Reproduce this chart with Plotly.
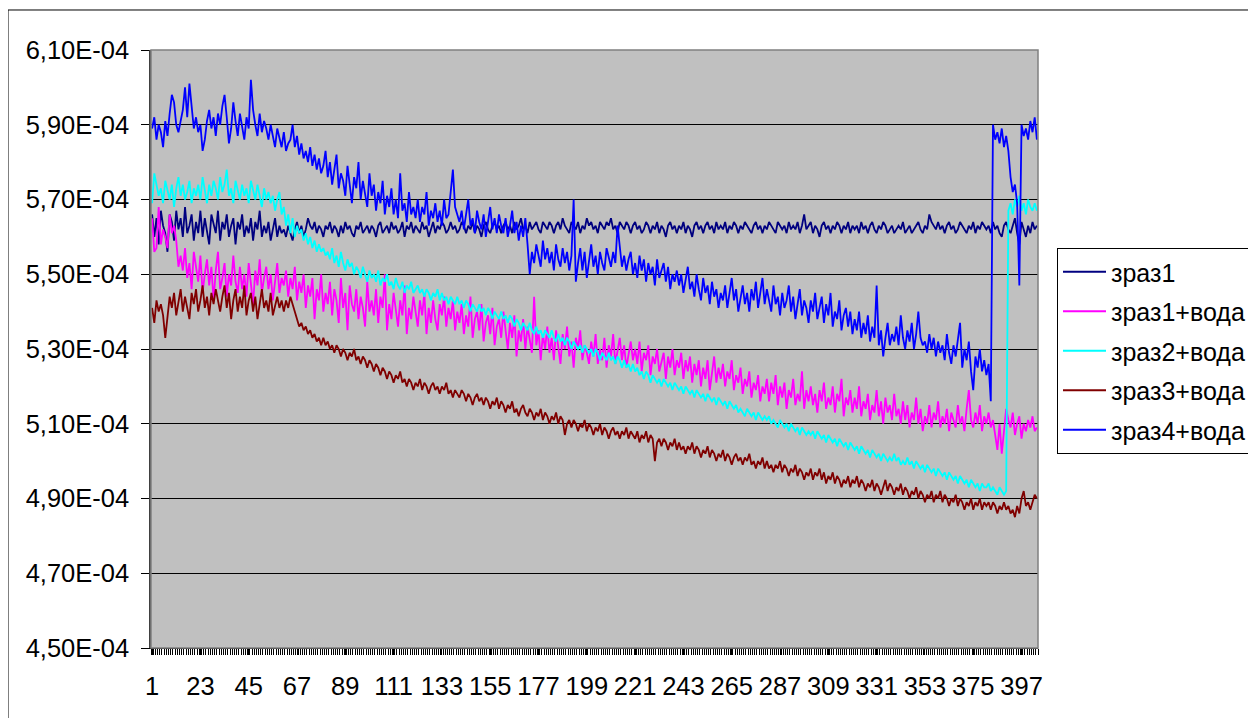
import numpy as np
import plotly.graph_objects as go

# values in units of 1e-6
zraz1 = [
566,560,565,558,567,563,561,556,566,564,559,567,562,565,560,568,561,563,566,559,
564,561,567,560,565,562,558,566,563,561,567,559,564,562,566,560,563,565,558,564,
562,566,560,563,561,565,559,564,562,567,560,563,561,564,559,562,565,560,563,561,
562,560,563,561,559,562,564,561,563,560,562,565,563,562,564,561,563,562,560,563,
562,564,561,563,562,560,563,561,564,562,563,561,560,563,562,564,561,562,563,561,
563,562,560,563,564,561,562,563,561,564,562,563,561,562,564,560,563,562,564,561,
563,562,561,564,562,563,560,562,564,561,563,562,564,563,561,562,564,562,563,561,
562,564,563,561,563,562,564,561,563,562,560,563,564,562,561,563,564,562,563,561,
563,564,562,563,561,564,562,563,565,562,563,561,564,562,563,564,562,561,564,563,
562,564,563,561,563,564,562,565,563,562,561,564,563,562,564,561,563,562,565,563,
564,562,563,561,564,563,562,564,563,565,562,563,561,564,563,562,564,563,561,563,
564,562,563,561,562,564,563,561,563,562,564,561,563,562,560,563,564,562,563,561,
563,562,564,561,563,562,560,563,564,562,563,561,563,564,562,563,561,564,562,563,
562,564,561,563,562,564,563,561,563,562,564,563,562,561,563,564,562,563,561,563,
562,564,563,562,561,564,563,562,563,561,564,562,563,562,564,561,563,566,562,563,
564,561,563,562,560,563,564,562,563,561,563,562,564,563,561,563,562,564,561,563,
562,563,561,564,562,563,561,563,564,562,561,563,562,564,563,561,562,563,561,562,
563,562,564,561,562,563,561,562,563,564,562,561,563,562,566,564,563,562,564,562,
563,561,563,564,562,563,561,562,564,563,562,561,563,562,564,561,563,562,564,563,
562,563,561,564,562,563,561,560,563,564,562,561,563,565,561,558,564,562,560,563,561,564,562,563]

zraz1_voda = [
565,556,557,568,558,562,560,557,566,561,563,559,552,555,551,557,549,553,546,556,
552,548,555,545,550,554,547,552,543,551,556,546,549,553,544,550,547,555,548,545,
552,546,550,544,553,548,542,551,547,554,545,549,552,546,550,543,548,553,545,549,
547,551,544,549,546,552,543,548,545,550,541,547,544,549,538,546,543,550,540,545,
542,548,539,546,543,537,549,541,545,535,547,542,540,546,538,544,541,536,548,540,
543,539,546,537,544,541,550,535,542,538,545,540,536,543,539,547,534,541,538,544,
540,536,543,539,545,534,541,537,543,538,535,542,539,544,536,541,538,543,535,540,
537,542,534,539,536,544,533,538,540,535,542,532,537,539,534,541,531,536,538,533,
540,535,530,537,533,539,528,535,532,538,530,536,533,529,544,531,535,527,534,530,
536,529,533,527,535,531,526,534,530,536,528,532,525,533,530,535,527,531,529,526,
532,528,534,526,530,527,533,525,531,528,534,526,530,533,527,531,525,529,532,527,
530,526,532,524,529,527,531,523,528,526,530,524,527,529,522,528,525,530,523,527,
525,529,522,527,524,528,521,526,523,527,520,525,522,527,519,524,528,521,525,522,
526,520,524,522,527,519,523,521,525,518,522,520,524,517,521,519,523,516,520,518,
522,516,521,518,523,515,520,517,521,514,519,517,522,515,518,516,524,514,519,516,
520,515,518,513,519,516,521,514,517,515,520,513,518,516,522,512,517,515,519,513,
517,514,520,512,516,514,518,511,515,513,519,512,516,510,517,513,515,511,518,512,
514,510,516,511,515,509,513,511,517,510,514,508,512,510,515,509,513,511,516,509,
512,510,514,508,513,511,509,515,510,512,508,514,519,511,509,513,510,515,508,512,
510,513,509,511,507,503,510,502,508,514,511,509,513,507,510,512,506,510,508,511,509,512,508,509]

zraz2_voda = [
569,577,574,571,573,569,575,572,570,574,568,573,576,571,574,570,572,575,569,573,
571,574,570,576,572,569,574,571,575,573,570,576,572,574,578,571,573,569,575,572,
570,574,571,573,569,575,572,570,574,571,568,573,570,572,569,571,567,570,572,566,
568,563,566,561,565,560,563,561,562,559,561,558,560,557,559,556,558,556,557,555,
556,554,557,553,555,552,556,553,551,554,552,553,550,552,551,549,552,550,548,551,
549,550,548,551,547,549,548,550,547,548,546,549,547,546,548,545,547,546,548,545,
546,547,545,546,544,546,545,543,545,544,546,543,545,543,544,542,544,543,542,544,
542,543,541,543,542,540,542,541,540,542,540,541,539,541,540,538,540,539,538,540,
538,539,537,539,538,536,538,537,535,537,536,535,537,535,534,536,534,535,533,535,
534,533,535,533,532,534,532,533,531,533,532,530,532,531,530,531,529,531,530,529,
530,528,530,529,527,529,528,527,529,527,528,526,528,527,525,527,525,526,524,526,
524,525,523,524,522,524,523,521,523,522,521,522,520,522,521,520,521,519,521,520,
519,520,518,520,519,518,519,517,519,518,517,518,516,518,517,516,517,515,517,516,
515,516,514,516,515,514,515,513,514,513,512,514,513,512,513,511,513,512,511,512,
511,512,510,511,510,509,511,510,509,510,508,510,509,508,509,507,509,508,507,508,
507,508,506,508,507,506,507,505,507,506,505,506,504,506,505,504,505,503,505,504,
503,504,502,504,503,502,503,501,503,502,501,502,500,502,501,500,501,500,502,500,
501,499,500,499,501,499,500,498,500,499,498,499,497,499,498,497,498,496,498,497,
496,497,495,497,496,495,496,494,496,495,494,495,493,495,494,493,494,492,494,493,
493,494,492,493,492,491,493,492,491,492,567,569,566,570,568,571,567,569,566,570,568,567,569,567]

zraz3_voda = [
541,537,543,540,542,539,533,538,544,541,545,539,543,546,540,544,541,538,545,542,
546,540,543,547,541,544,539,545,542,546,543,540,544,547,541,545,538,543,546,540,
544,541,547,539,543,545,540,544,538,542,546,541,543,540,545,539,542,544,541,543,
540,543,541,544,542,540,538,536,537,535,536,534,535,533,534,532,533,531,533,531,
532,530,531,529,531,530,528,530,529,527,529,528,530,527,528,526,528,527,525,527,
526,524,526,525,523,525,524,522,524,523,521,523,522,524,521,522,520,522,521,519,
521,520,522,519,521,520,518,520,521,519,520,518,520,519,521,518,519,517,519,518,
517,519,518,516,518,517,515,517,518,516,517,515,517,516,514,516,515,517,514,516,
515,513,515,514,516,513,514,512,514,515,513,512,514,513,511,513,512,514,511,513,
512,510,512,511,513,510,512,511,507,510,511,509,511,510,508,510,509,511,508,510,
509,507,509,508,510,507,509,508,506,508,509,507,508,506,508,507,509,506,508,507,
506,508,505,507,506,508,505,507,506,500,505,506,504,506,505,503,505,504,506,503,
505,503,504,502,504,503,505,502,504,503,501,503,502,504,501,503,502,500,502,501,
503,500,502,501,499,501,502,500,501,499,501,500,502,499,500,498,500,499,501,498,
500,498,499,497,499,498,500,497,499,498,496,498,497,499,496,498,497,495,497,496,
498,495,497,496,498,495,497,494,496,495,497,494,496,495,493,495,494,496,493,495,
494,496,493,495,494,492,494,493,495,492,494,493,491,493,495,492,494,493,491,493,
492,494,491,493,492,490,492,491,493,490,492,491,489,491,490,492,489,491,490,492,
489,491,490,488,490,489,491,488,490,489,487,489,488,490,487,489,488,490,487,489,
488,489,487,489,488,486,488,487,489,487,488,486,487,485,488,486,490,492,488,489,487,489,491,490]

zraz4_voda = [
589,592,586,590,588,584,591,587,593,598,596,590,588,591,594,600,592,601,595,589,
592,588,590,583,586,591,594,589,592,587,593,590,595,598,592,585,589,596,591,587,
593,590,586,592,589,602,594,590,587,593,588,591,589,586,590,587,584,589,586,584,
588,583,585,586,590,584,587,582,585,581,583,580,584,579,582,578,581,577,579,583,
576,580,574,578,582,573,577,575,571,579,574,569,576,573,580,570,575,572,568,577,
571,574,567,572,569,575,566,571,568,573,566,570,565,577,567,569,564,572,566,568,
565,570,564,568,566,572,563,567,565,569,564,567,563,570,565,566,572,578,568,566,
564,567,562,566,570,563,565,561,567,564,562,566,560,564,568,562,565,561,566,563,
561,565,560,563,567,561,564,559,563,560,565,558,550,556,553,558,555,552,559,554,
557,553,556,551,558,554,552,557,553,556,551,555,570,548,553,557,551,556,549,554,
558,552,555,550,556,553,551,557,554,552,556,553,563,557,552,555,551,554,556,550,
553,549,555,551,554,548,553,550,552,547,554,549,551,553,548,552,546,550,548,551,
547,550,545,549,552,546,548,544,550,546,543,549,545,547,542,548,544,546,541,545,
543,547,541,545,549,543,546,540,544,547,542,545,540,546,543,548,541,545,549,542,
546,543,540,547,542,544,539,545,541,543,547,540,544,538,542,546,539,543,541,537,
543,540,545,538,541,544,537,542,539,545,536,540,538,543,535,539,541,536,540,534,
538,535,540,533,537,534,539,532,536,533,547,531,535,528,533,537,531,534,532,536,
531,539,533,530,535,532,537,530,534,540,533,531,532,529,534,530,533,528,532,529,
531,527,534,529,526,531,528,533,537,525,530,527,532,524,519,528,525,530,524,527,
523,526,516,590,586,588,585,589,584,587,583,576,572,574,569,547,590,587,589,586,591,588,592,586]

series_names = ["зраз1", "зраз1+вода", "зраз2+вода", "зраз3+вода", "зраз4+вода"]
series_data = [zraz1, zraz1_voda, zraz2_voda, zraz3_voda, zraz4_voda]
series_colors = ["#000080", "#FF00FF", "#00FFFF", "#800000", "#0000FF"]

x_tickvals = list(range(1, 398, 22))
y_tickvals = [450, 470, 490, 510, 530, 550, 570, 590, 610]
y_ticktext = ["4,50E-04", "4,70E-04", "4,90E-04", "5,10E-04", "5,30E-04",
              "5,50E-04", "5,70E-04", "5,90E-04", "6,10E-04"]

FONT = "Liberation Sans, Arial, sans-serif"
FS = 25.5
LFS = 25

fig = go.Figure()
for i, (name, vals, col) in enumerate(zip(series_names, series_data, series_colors)):
    y = np.array(vals, dtype=float) * 1e-6
    x = np.arange(1, len(vals) + 1)
    fig.add_trace(go.Scatter(x=x, y=y, mode="lines", name=name,
                             line=dict(color=col, width=1.8),
                             legendgroup=f"g{i}"))

fig.update_layout(
    width=1248, height=710,
    margin=dict(l=143, r=218, t=42, b=70, autoexpand=False),
    paper_bgcolor="white",
    plot_bgcolor="#C0C0C0",
    font=dict(family=FONT, size=FS, color="black"),
    showlegend=True,
    legend=dict(
        xref="container", yref="container",
        x=1049 / 1248, xanchor="left", y=1 - 240 / 710, yanchor="top",
        bgcolor="white", bordercolor="black", borderwidth=1,
        font=dict(family=FONT, size=LFS, color="black"),
        tracegroupgap=4, itemwidth=43,
    ),
    xaxis=dict(
        range=[0.5, 404.5], tickmode="array", tickvals=x_tickvals,
        ticktext=[str(v) for v in x_tickvals],
        showgrid=False, zeroline=False,
        showline=True, linecolor="black", linewidth=1,
        ticks="outside", ticklen=6, tickcolor="black",
        minor=dict(ticks="outside", tick0=0.5, dtick=1, ticklen=6,
                   tickcolor="black", showgrid=False),
        ticklabelstandoff=9,
        tickfont=dict(family=FONT, size=FS, color="black"),
    ),
    yaxis=dict(
        range=[450e-6, 610e-6], tickmode="array",
        tickvals=[v * 1e-6 for v in y_tickvals], ticktext=y_ticktext,
        showgrid=True, gridcolor="black", gridwidth=1,
        zeroline=False, showline=True, linecolor="#404040", linewidth=1.5,
        ticks="outside", ticklen=8, tickcolor="black",
        ticklabelstandoff=7,
        tickfont=dict(family=FONT, size=FS, color="black"),
    ),
    shapes=[
        dict(type="rect", xref="paper", yref="paper", x0=0, x1=1, y0=0, y1=1,
             line=dict(color="#808080", width=1.5), layer="above"),
        dict(type="rect", xref="paper", yref="paper",
             x0=-0.1612, x1=1.26, y0=-0.14, y1=1.0669,
             line=dict(color="black", width=1)),
    ],
)

fig.write_html("out.html")
